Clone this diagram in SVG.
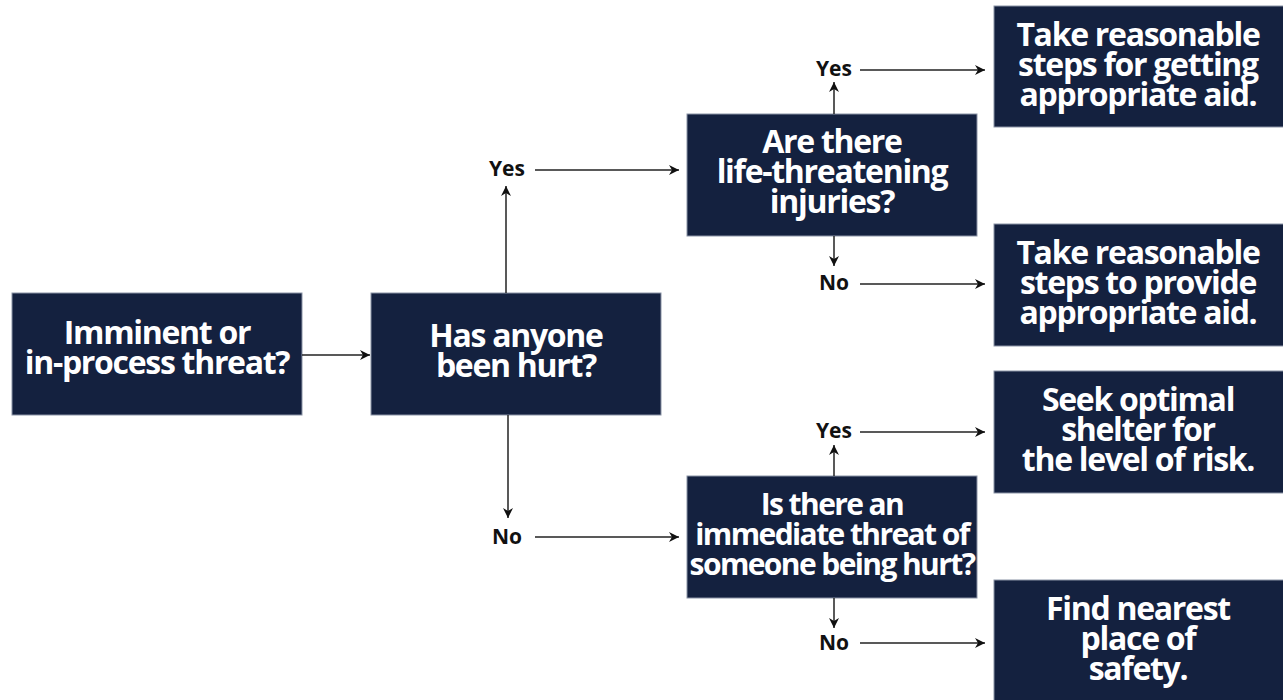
<svg xmlns="http://www.w3.org/2000/svg" width="1283" height="700" viewBox="0 0 1283 700">
<style>
.box{fill:#14213f;stroke:#8a93a6;stroke-width:1}
.t{font-family:"Open Sans","Liberation Sans",sans-serif;font-weight:bold;font-size:32px;fill:#ffffff;text-anchor:middle;letter-spacing:-1.3px}
.lbl{font-family:"Open Sans","Liberation Sans",sans-serif;font-weight:bold;font-size:21px;fill:#111;text-anchor:middle}
.c{stroke:#222;stroke-width:1.5;fill:none;marker-end:url(#ah)}
</style>
<defs>
<marker id="ah" viewBox="0 0 10 10" refX="10" refY="5" markerWidth="10" markerHeight="10" markerUnits="userSpaceOnUse" orient="auto"><path d="M0,0 L10,5 L0,10 L3,5 Z" fill="#111"/></marker>
</defs>
<rect width="1283" height="700" fill="#ffffff"/>
<g id="n1"><rect class="box" x="12" y="293" width="290" height="122"/><text class="t"><tspan x="157" y="344">Imminent or</tspan><tspan x="157" y="374">in-process threat?</tspan></text></g>
<g id="n2"><rect class="box" x="371" y="293" width="290" height="122"/><text class="t"><tspan x="516" y="347">Has anyone</tspan><tspan x="516" y="377">been hurt?</tspan></text></g>
<g id="n3"><rect class="box" x="687" y="114" width="290" height="122"/><text class="t"><tspan x="832" y="153">Are there</tspan><tspan x="832" y="183">life-threatening</tspan><tspan x="832" y="213">injuries?</tspan></text></g>
<g id="n4"><rect class="box" x="687" y="476" width="290" height="122"/><text class="t" style="font-size:30px;letter-spacing:-1.6px"><tspan x="832" y="515">Is there an</tspan><tspan x="832" y="545">immediate threat of</tspan><tspan x="832" y="575">someone being hurt?</tspan></text></g>
<g id="r1"><rect class="box" x="994" y="6" width="290" height="121"/><text class="t"><tspan x="1138" y="46">Take reasonable</tspan><tspan x="1138" y="76">steps for getting</tspan><tspan x="1138" y="106">appropriate aid.</tspan></text></g>
<g id="r2"><rect class="box" x="994" y="224" width="290" height="122"/><text class="t"><tspan x="1138" y="264">Take reasonable</tspan><tspan x="1138" y="294">steps to provide</tspan><tspan x="1138" y="324">appropriate aid.</tspan></text></g>
<g id="r3"><rect class="box" x="994" y="371" width="290" height="122"/><text class="t"><tspan x="1138" y="411">Seek optimal</tspan><tspan x="1138" y="441">shelter for</tspan><tspan x="1138" y="471">the level of risk.</tspan></text></g>
<g id="r4"><rect class="box" x="994" y="580" width="290" height="121"/><text class="t"><tspan x="1138" y="620">Find nearest</tspan><tspan x="1138" y="650">place of</tspan><tspan x="1138" y="680">safety.</tspan></text></g>
<g id="labels">
<text class="lbl" x="507" y="176">Yes</text>
<text class="lbl" x="507" y="544">No</text>
<text class="lbl" x="834" y="76">Yes</text>
<text class="lbl" x="834" y="290">No</text>
<text class="lbl" x="834" y="438">Yes</text>
<text class="lbl" x="834" y="650">No</text>
</g>
<g id="connectors">
<line class="c" x1="302" y1="355" x2="370" y2="355"/>
<line class="c" x1="506" y1="293" x2="506" y2="186"/>
<line class="c" x1="535" y1="170" x2="679" y2="170"/>
<line class="c" x1="508" y1="415" x2="508" y2="518"/>
<line class="c" x1="535" y1="537" x2="679" y2="537"/>
<line class="c" x1="834" y1="114" x2="834" y2="82"/>
<line class="c" x1="860" y1="70" x2="985" y2="70"/>
<line class="c" x1="834" y1="236" x2="834" y2="266"/>
<line class="c" x1="860" y1="284" x2="985" y2="284"/>
<line class="c" x1="834" y1="476" x2="834" y2="445"/>
<line class="c" x1="860" y1="432" x2="985" y2="432"/>
<line class="c" x1="834" y1="598" x2="834" y2="628"/>
<line class="c" x1="860" y1="643" x2="985" y2="643"/>
</g>
</svg>
